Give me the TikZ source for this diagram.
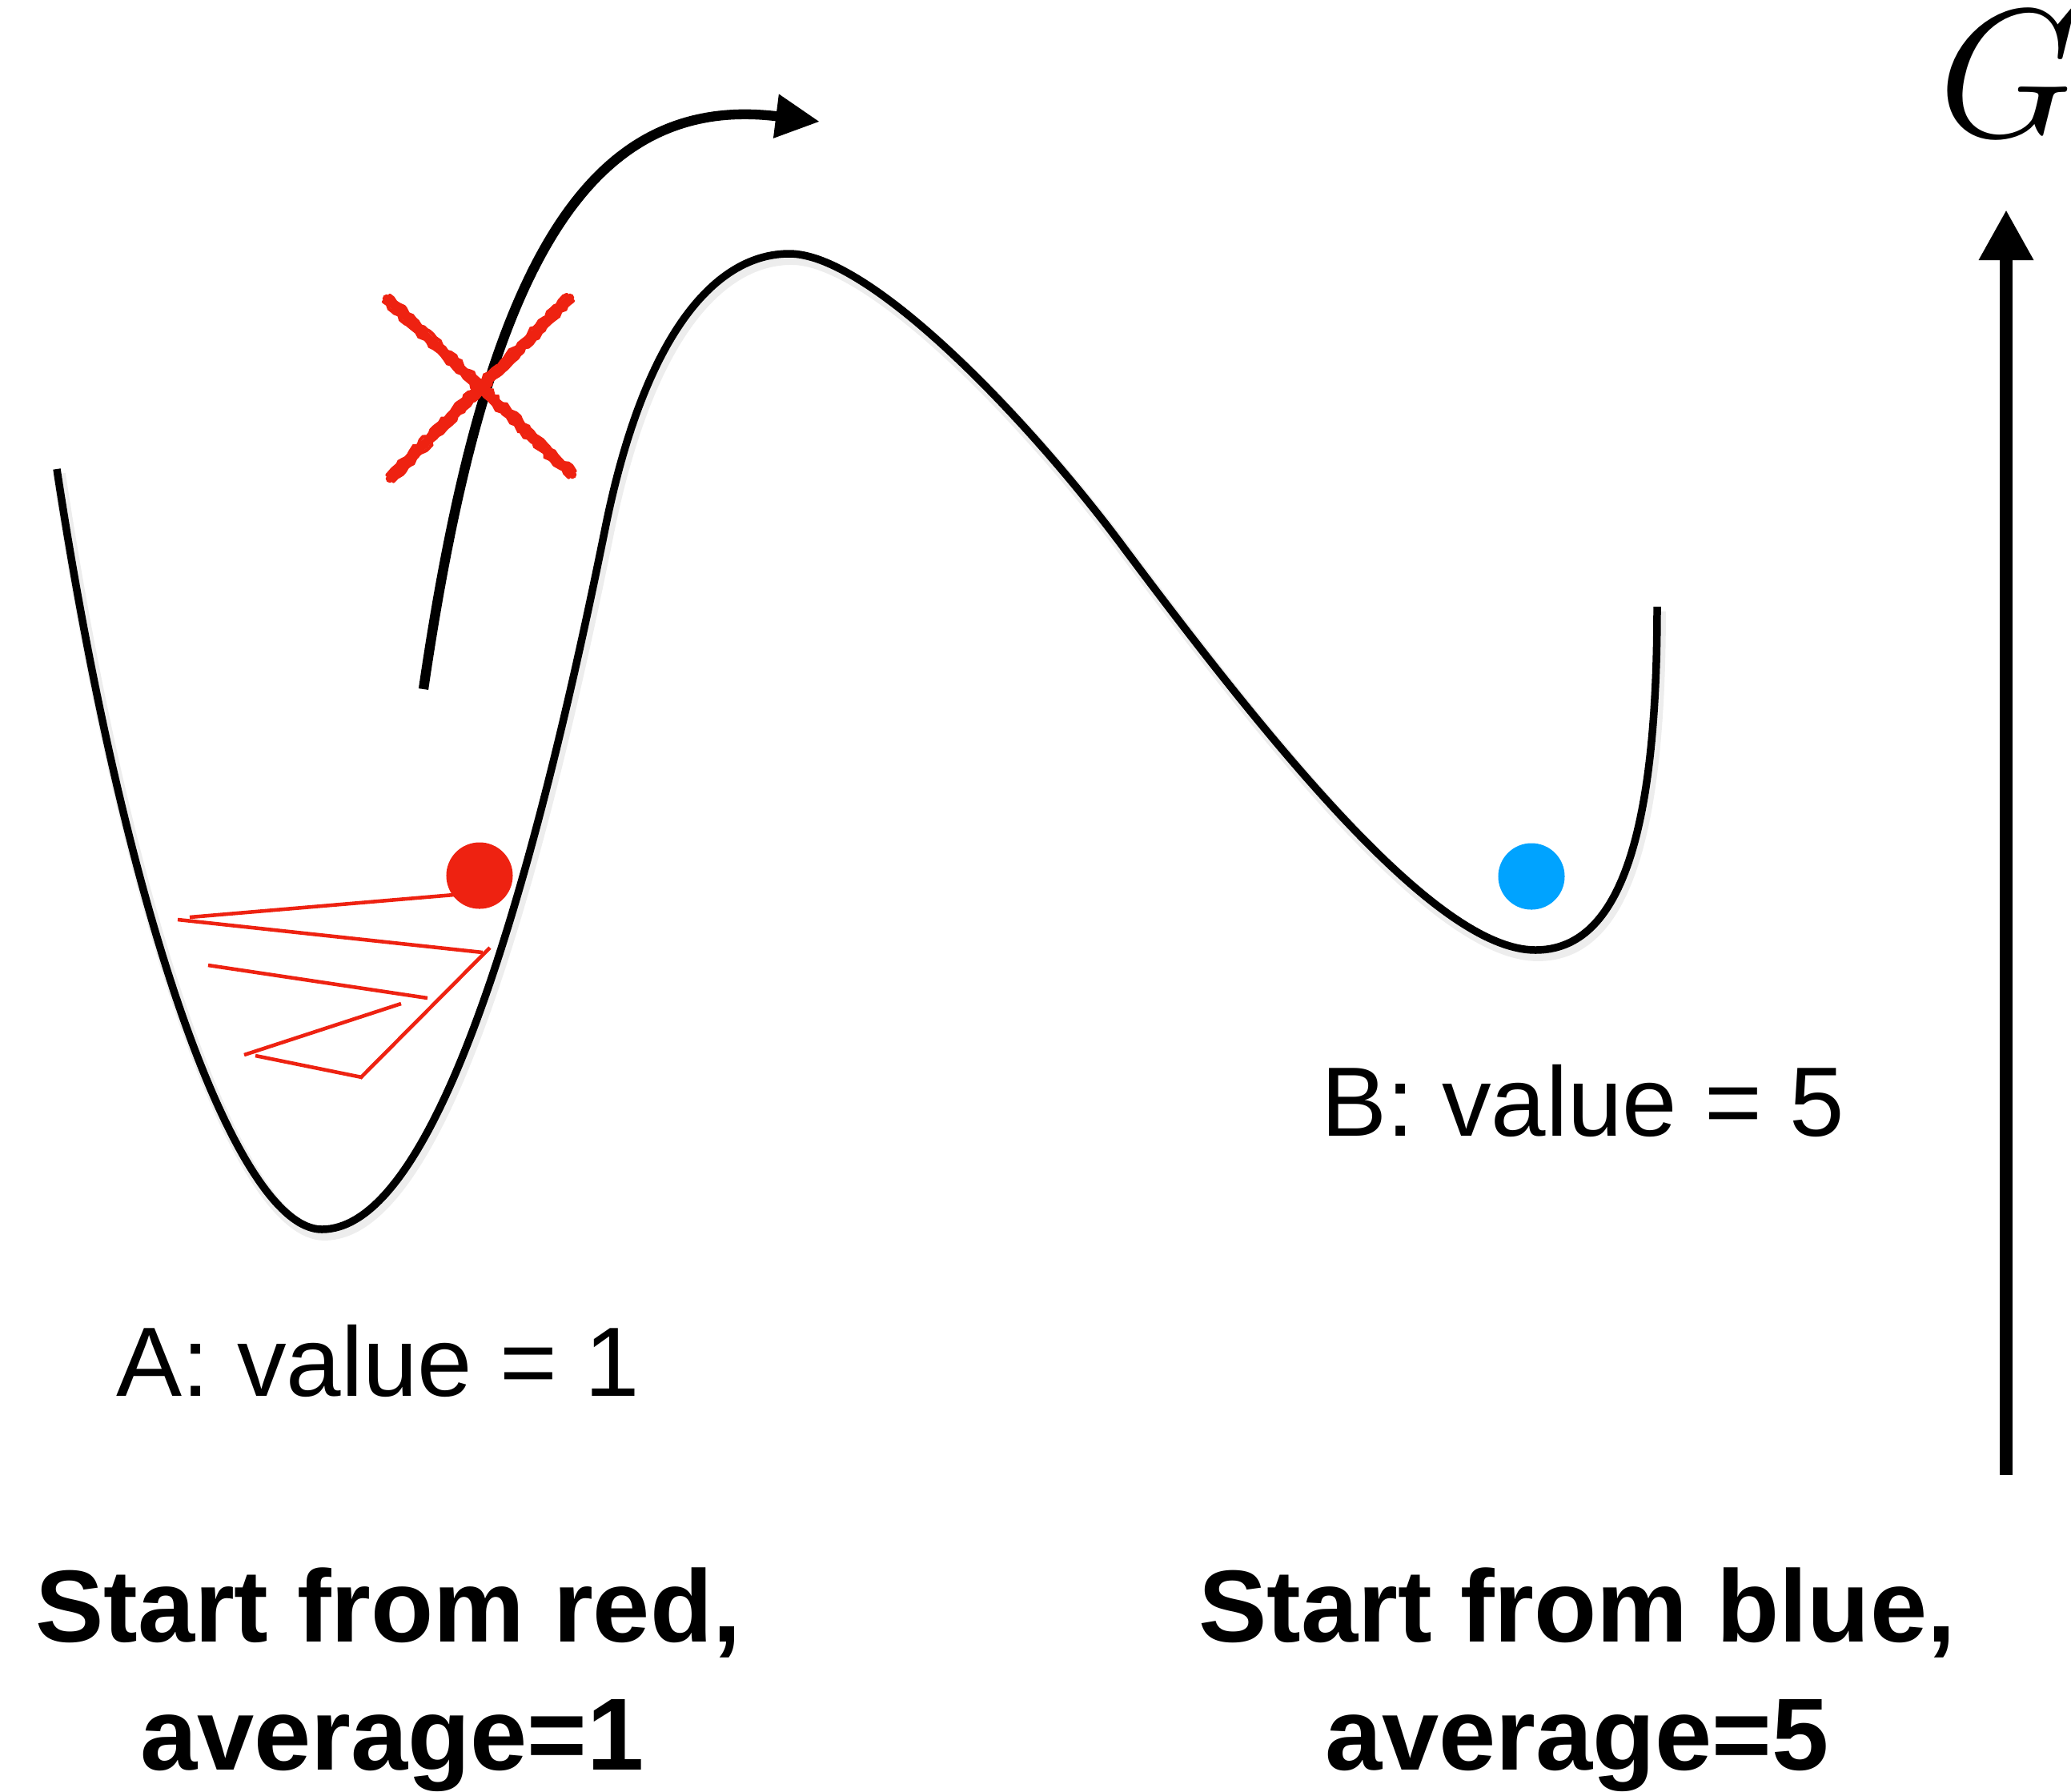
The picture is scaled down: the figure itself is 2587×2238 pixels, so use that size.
\documentclass[tikz,border=0pt]{standalone}
\usepackage{fontspec}
\newfontfamily\labfont{Liberation Sans}
\usetikzlibrary{arrows.meta,decorations.pathmorphing}
\definecolor{dotred}{RGB}{238,34,17}
\definecolor{dotblue}{RGB}{0,163,255}
\newcommand\landpath{(71,586) .. controls (160,1170) and (300,1536) .. (402,1536)
  .. controls (520,1536) and (638,1244) .. (756,660)
  .. controls (806,412.5) and (896,317) .. (986,317)
  .. controls (1086,317) and (1282,521) .. (1402,682)
  .. controls (1602,950) and (1798,1187) .. (1918,1187)
  .. controls (2018,1187) and (2070,1058) .. (2070,758)}
\begin{document}
\begin{tikzpicture}[x=0.01cm,y=-0.01cm,
  landscape/.style={line width=2.7pt, line join=round},
  landshadow/.style={line width=4.5pt, draw=black, opacity=0.07, line join=round},
  escapearrow/.style={line width=3.5pt, -{Triangle[length=0.55cm,width=0.52cm]}},
  axisarrow/.style={line width=4.5pt, -{Triangle[length=0.63cm,width=0.64cm]}},
  zig/.style={draw=dotred, line width=1.3pt},
  crayonbase/.style={draw=dotred, line width=3.0pt, line cap=round},
  crayon/.style={draw=dotred, line width=1.2pt, line cap=round, decorate, decoration={random steps, segment length=1.5pt, amplitude=0.6pt}},
  ball/.style={circle, inner sep=0pt, minimum size=0.83cm},
  valuelabel/.style={font=\labfont\fontsize{35}{42}\selectfont, anchor=base west, inner sep=0pt},
  startlabel/.style={font=\labfont\bfseries\fontsize{36.4}{44}\selectfont, anchor=base, inner sep=0pt}]
\useasboundingbox[fill=white] (0,0) rectangle (2587,2238);
\pgfmathsetseed{7}
% energy landscape with faint shadow
\begin{scope}[shift={(3,6)}]
  \draw[landshadow] \landpath;
\end{scope}
\draw[landscape] \landpath;
% escape arrow
\coordinate (arrowstart) at (529,861);
\coordinate (arrowtip) at (1024,152);
\draw[escapearrow] (arrowstart) .. controls (605,340) and (730,115) .. (arrowtip);
% crayon cross
\draw[crayonbase] (483,373) -- (715,593);
\draw[crayonbase] (712,372) -- (487,598);
\foreach \dx/\dy in {4/-4,-4/4,2/-2,-2/2}{
  \draw[crayon] (483+\dx,373+\dy) -- (715+\dx,593+\dy);
}
\foreach \dx/\dy in {4/4,-4/-4,2/2,-2/-2}{
  \draw[crayon] (712+\dx,372+\dy) -- (487+\dx,598+\dy);
}
% red zigzag path
\draw[zig] (567,1118) -- (237,1146);
\draw[zig] (222,1149) -- (603,1190);
\draw[zig] (612,1184) -- (450,1347);
\draw[zig] (452,1346) -- (319,1319);
\draw[zig] (305,1318) -- (501,1254);
\draw[zig] (534,1247) -- (260,1206);
% balls
\node[ball, fill=dotred] (redball) at (599,1094) {};
\node[ball, fill=dotblue] (blueball) at (1913,1095) {};
% labels
\node[valuelabel] (labA) at (145,1744) {A: value = 1};
\node[valuelabel] (labB) at (1650,1419) {B: value = 5};
\node[startlabel] (startredA) at (485,2051) {Start from red,};
\node[startlabel] (startredB) at (490,2211) {average=1};
\node[startlabel] (startblueA) at (1970,2051) {Start from blue,};
\node[startlabel] (startblueB) at (1970,2211) {average=5};
% G axis
\coordinate (axbot) at (2506,1843);
\coordinate (axtop) at (2506,262);
\draw[axisarrow] (axbot) -- (axtop);
\node[anchor=base west, inner sep=0pt, font=\Huge, scale=2.61] (glabel) at (2420,170) {$G$};
\end{tikzpicture}
\end{document}
